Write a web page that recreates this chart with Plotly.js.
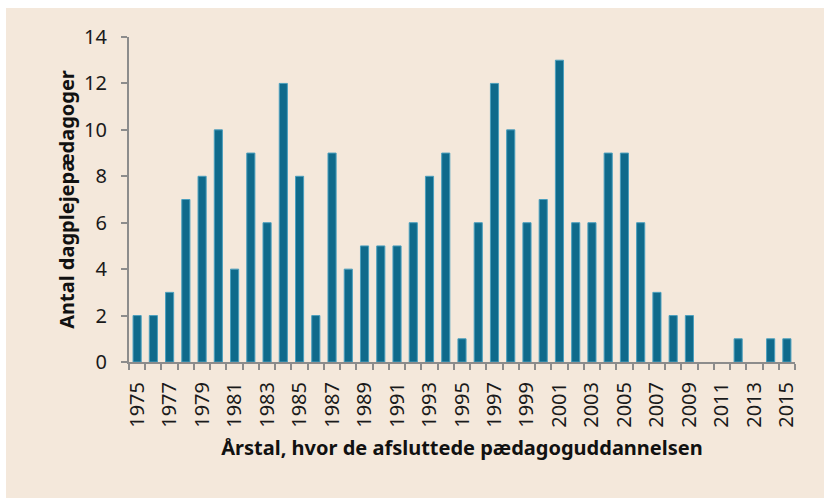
<!DOCTYPE html>
<html>
<head>
<meta charset="utf-8">
<script src="https://cdn.plot.ly/plotly-3.0.1.min.js"></script>
<style>
html,body{margin:0;padding:0;background:#ffffff;width:825px;height:498px;overflow:hidden;}
#chart{position:absolute;left:6px;top:8px;width:818px;height:490px;}
</style>
</head>
<body>
<div id="chart"></div>
<script>
const years = [1975,1976,1977,1978,1979,1980,1981,1982,1983,1984,1985,1986,1987,1988,1989,1990,1991,1992,1993,1994,1995,1996,1997,1998,1999,2000,2001,2002,2003,2004,2005,2006,2007,2008,2009,2010,2011,2012,2013,2014,2015];
const counts = [2,2,3,7,8,10,4,9,6,12,8,2,9,4,5,5,5,6,8,9,1,6,12,10,6,7,13,6,6,9,9,6,3,2,2,0,0,1,0,1,1];
const tickYears = [1975,1977,1979,1981,1983,1985,1987,1989,1991,1993,1995,1997,1999,2001,2003,2005,2007,2009,2011,2013,2015];
const yTitle = "Antal dagplejepædagoger";
const xTitle = "Årstal, hvor de afsluttede pædagoguddannelsen";

const font = "Noto Sans, sans-serif";
const trace = {
  type: 'bar',
  x: years,
  y: counts,
  width: 0.5,
  marker: {color: '#0f6a8b', line: {color: '#4b9fbd', width: counts.map(v => v > 0 ? 1 : 0)}},
  hoverinfo: 'x+y'
};
const layout = {
  width: 818, height: 490,
  paper_bgcolor: '#f4e8db',
  plot_bgcolor: '#f4e8db',
  margin: {l: 123, r: 29, t: 29, b: 136},
  showlegend: false,
  font: {family: font, color: '#1a1a1a', size: 18},
  xaxis: {
    type: 'linear',
    range: [1974.5, 2015.5],
    tickvals: tickYears,
    ticktext: tickYears.map(String),
    tickangle: -90,
    ticks: 'outside', ticklen: 6, tickcolor: 'rgba(0,0,0,0)',
    ticklabelstandoff: 4,
    tickfont: {family: font, size: 20, color: '#1a1a1a'},
    minor: {tick0: 1974.5, dtick: 1, ticks: 'outside', ticklen: 6, tickcolor: '#8c8c8c', tickwidth: 2, showgrid: false},
    showline: true, linecolor: '#8c8c8c', linewidth: 2,
    showgrid: false, zeroline: false,
    title: {text: xTitle, font: {family: font, size: 20, color: '#111', weight: 'bold'}, standoff: 14}
  },
  yaxis: {
    range: [0, 14], dtick: 2, tick0: 0,
    ticks: 'outside', ticklen: 6, tickcolor: '#8c8c8c', tickwidth: 2,
    ticklabelstandoff: 10,
    tickfont: {family: font, size: 20, color: '#1a1a1a'},
    showline: true, linecolor: '#8c8c8c', linewidth: 2,
    showgrid: false, zeroline: false,
    title: {text: yTitle, font: {family: font, size: 20, color: '#111', weight: 'bold'}, standoff: 4}
  }
};
Plotly.newPlot('chart', [trace], layout, {displayModeBar: false, staticPlot: true});
</script>
</body>
</html>
